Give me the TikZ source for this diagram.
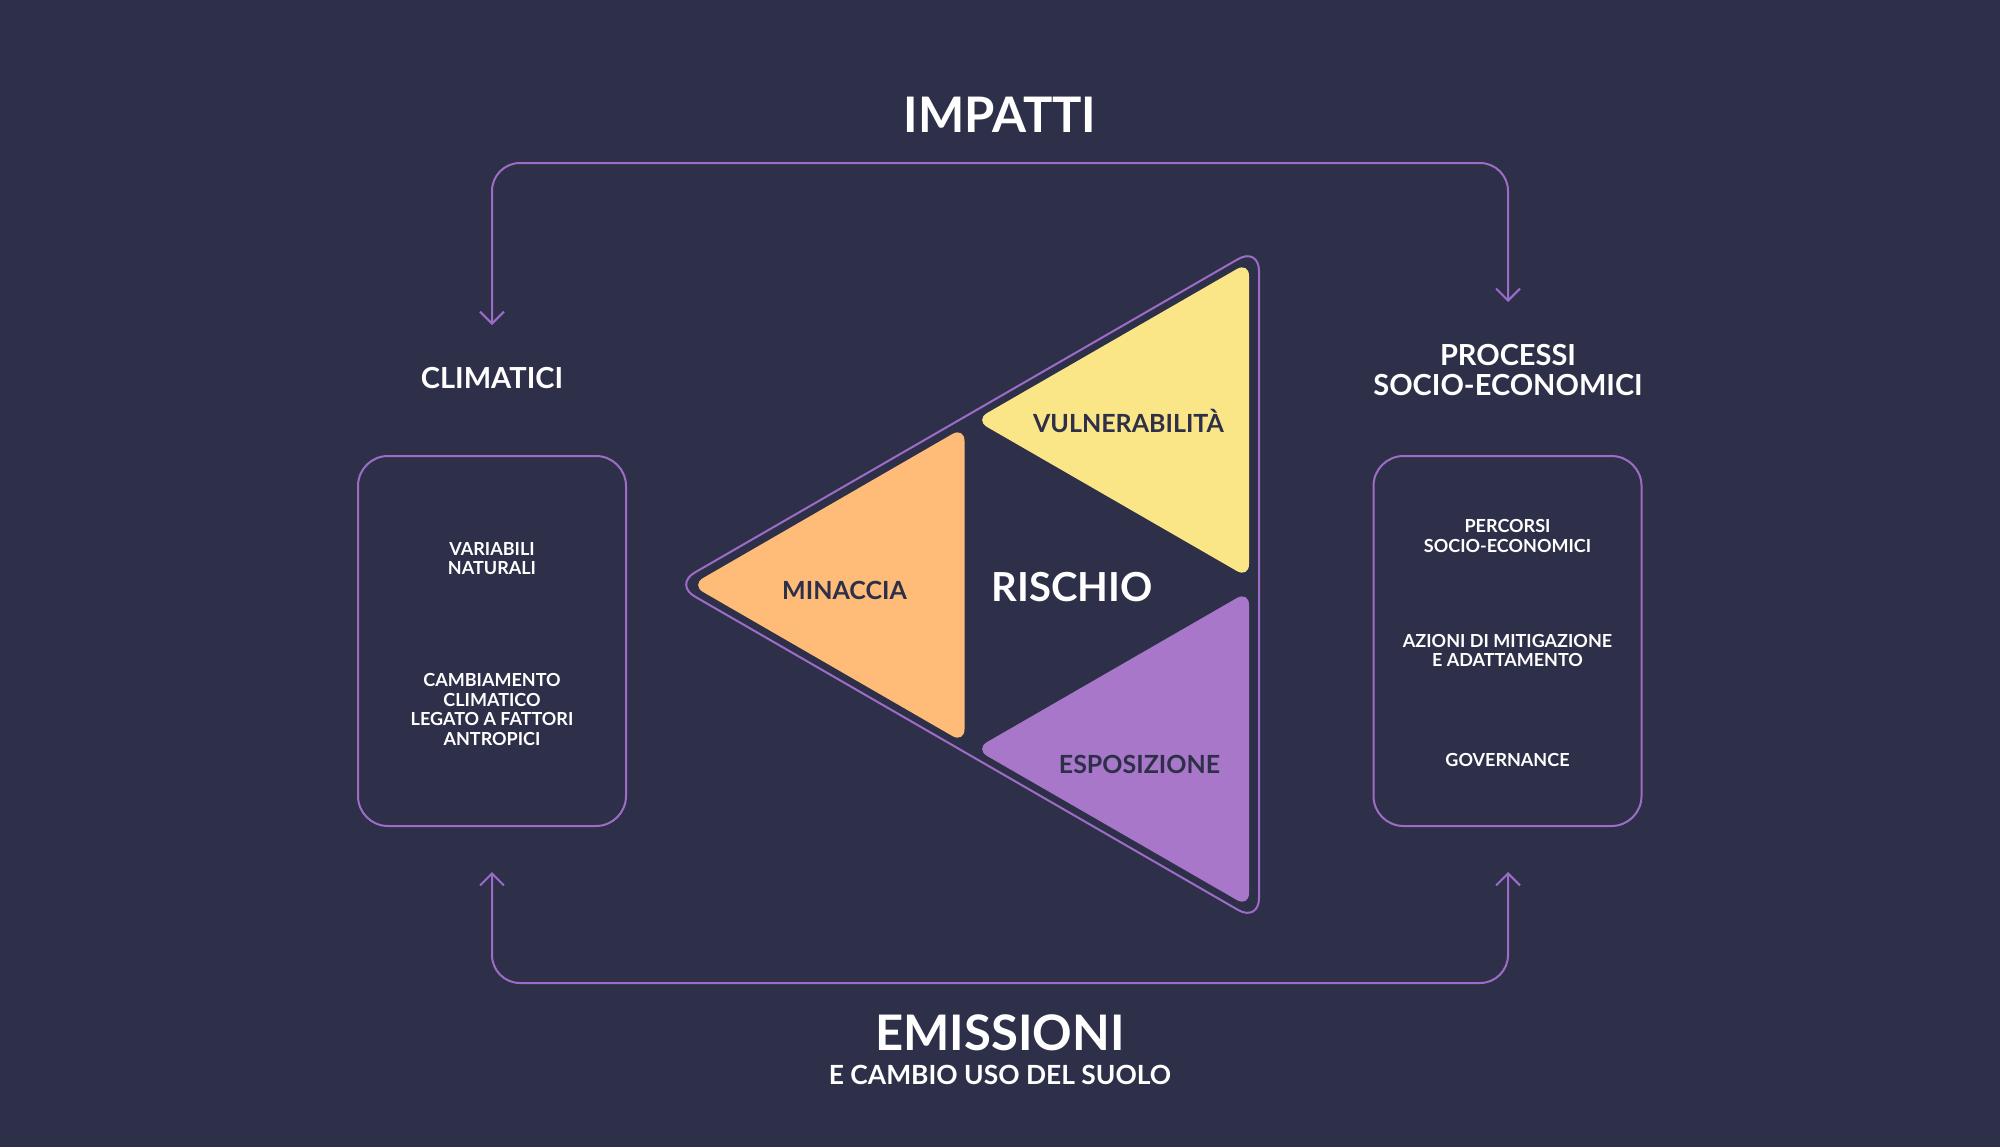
\documentclass[tikz,border=0pt]{standalone}
\usepackage{fontspec}
\setmainfont{Lato}
\usetikzlibrary{arrows.meta,positioning}
\definecolor{bgblue}{HTML}{2E3049}
\definecolor{lineviolet}{HTML}{9D6CC6}
\definecolor{tyellow}{HTML}{FBE687}
\definecolor{torange}{HTML}{FFBC78}
\definecolor{tviolet}{HTML}{A877CA}
\begin{document}
\begin{tikzpicture}[x=0.5pt,y=-0.5pt,
    flow/.style={draw=lineviolet,line width=1pt,rounded corners=14pt,
      {Straight Barb[length=6pt,width=12pt]}-{Straight Barb[length=6pt,width=12pt]}},
    box/.style={draw=lineviolet,line width=1pt,rounded corners=15pt,
      minimum width=134pt,minimum height=185pt},
    tri/.style={rounded corners=7pt},
    biglabel/.style={text=white,font=\bfseries\fontsize{24.5}{28}\selectfont},
    sublabel/.style={text=white,font=\bfseries\fontsize{13.2}{15}\selectfont},
    headlabel/.style={text=white,align=center,font=\bfseries\fontsize{14.5}{15}\selectfont},
    boxtext/.style={text=white,align=center,font=\bfseries\fontsize{9}{9.75}\selectfont},
    trilabel/.style={text=bgblue,font=\bfseries\fontsize{12.5}{14}\selectfont},
    risklabel/.style={text=white,font=\bfseries\fontsize{20}{22}\selectfont}]

    % background
    \fill[bgblue] (0,0) rectangle (2000,1147);

    % the triangles
    \draw[lineviolet,line width=1pt,rounded corners=12pt] (674,584.5) --
    (1259,247) -- (1259,922) -- cycle;
    \fill[torange,tri] (691,585) -- (964.5,427) -- (964.5,743) -- cycle;
    \fill[tyellow,tri] (975,420) -- (1249,262) -- (1249,578) -- cycle;
    \fill[tviolet,tri] (975,749) -- (1249,591) -- (1249,907) -- cycle;

    % the texts
    \node[biglabel] (impatti) at (1000,115) {IMPATTI};
    \node[biglabel] (emissioni) at (1000,1033) {EMISSIONI};
    \node[sublabel] (cambio) at (1000,1075) {E CAMBIO USO DEL SUOLO};
    \node[headlabel] (clim) at (492,378) {CLIMATICI};
    \node[headlabel] (proc) at (1508,370) {PROCESSI\\SOCIO-ECONOMICI};

    \node[trilabel] (vuln) at (1128.5,420.5) {VULNERABILITÀ};
    \node[trilabel] (minaccia) at (844.5,590) {MINACCIA};
    \node[trilabel] (espo) at (1139.5,764.5) {ESPOSIZIONE};
    \node[risklabel] (rischio) at (1072,587) {RISCHIO};

    % the boxes
    \node[box] (lbox) at (492,641) {};
    \node[box] (rbox) at (1507.5,641) {};
    \node[boxtext] (natur) at (492,558.5) {VARIABILI\\NATURALI};
    \node[boxtext] (antrop) at (492,709.5) {CAMBIAMENTO\\CLIMATICO\\LEGATO
      A FATTORI\\ANTROPICI};
    \node[boxtext] (percorsi) at (1507.5,536) {PERCORSI\\SOCIO-ECONOMICI};
    \node[boxtext] (azioni) at (1507.5,650.5) {AZIONI DI MITIGAZIONE\\E
      ADATTAMENTO};
    \node[boxtext] (gov) at (1507.5,760) {GOVERNANCE};

    % the loops
    \coordinate (ltop) at (492,325);
    \coordinate (rtop) at (1508,302);
    \coordinate (topbar) at (1000,163);
    \coordinate (lbot) at (492,872);
    \coordinate (rbot) at (1508,872);
    \coordinate (botbar) at (1000,983);

    \draw[flow] (ltop) |- (topbar) -| (rtop);
    \draw[flow] (lbot) |- (botbar) -| (rbot);
  \end{tikzpicture}
\end{document}
